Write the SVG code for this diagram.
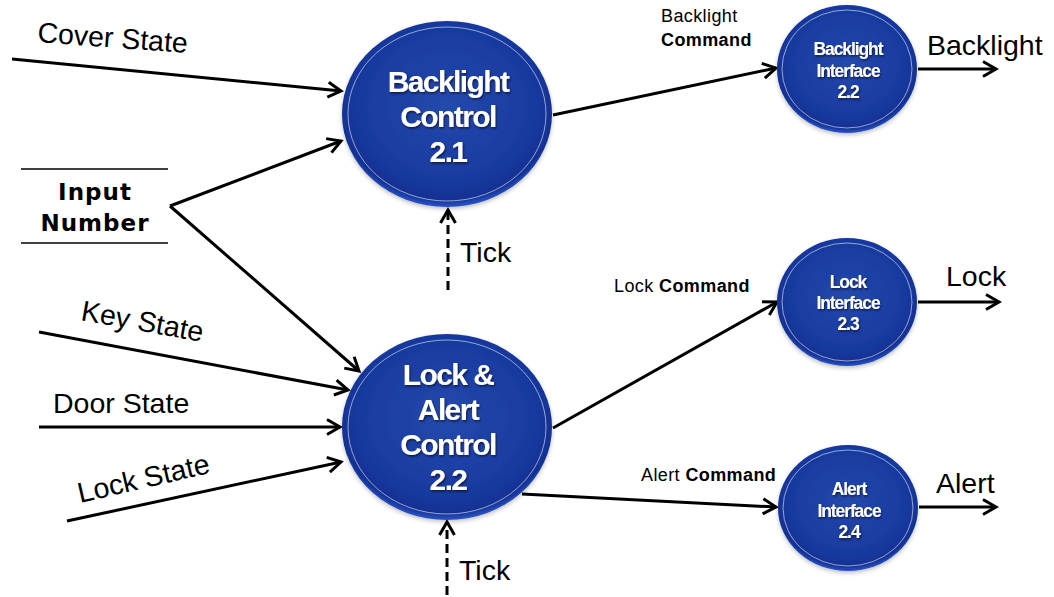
<svg xmlns="http://www.w3.org/2000/svg" width="1054" height="597" viewBox="0 0 1054 597">
<defs>
<radialGradient id="bub" cx="50%" cy="45%" r="55%">
<stop offset="0" stop-color="#2449ad"/>
<stop offset="0.8" stop-color="#18399e"/>
<stop offset="0.93" stop-color="#113092"/>
<stop offset="1" stop-color="#2d55c8"/>
</radialGradient>
<filter id="ts" x="-10%" y="-20%" width="130%" height="150%">
<feDropShadow dx="1" dy="1.5" stdDeviation="1" flood-color="#000" flood-opacity="0.6"/>
</filter>
<filter id="es" x="-10%" y="-10%" width="120%" height="125%">
<feDropShadow dx="0" dy="2" stdDeviation="2" flood-color="#000" flood-opacity="0.25"/>
</filter>
<marker id="arr" viewBox="0 0 18 18" refX="15" refY="9" markerWidth="18" markerHeight="18" markerUnits="userSpaceOnUse" orient="auto">
<path d="M2,1.5 L15,9 L2,16.5" fill="none" stroke="#000" stroke-width="3" stroke-linejoin="miter"/>
</marker>
</defs>
<style>
.bub{fill:url(#bub);filter:url(#es)}
.ring{fill:none;stroke:#ffffff;stroke-opacity:0.55;stroke-width:1}
.big{font-family:"Liberation Sans",Arial,sans-serif;font-weight:bold;font-size:30px;fill:#fff;text-anchor:middle;letter-spacing:-1.6px;filter:url(#ts)}
.small{font-family:"Liberation Sans",Arial,sans-serif;font-weight:bold;font-size:17.5px;fill:#fff;text-anchor:middle;letter-spacing:-1.1px;filter:url(#ts)}
.lbl{font-family:"Liberation Sans",Arial,sans-serif;font-size:28.5px;fill:#000}
.cmd{font-family:"Liberation Sans",Arial,sans-serif;font-size:18px;fill:#000;letter-spacing:0.4px}
.cmd tspan.b{font-weight:bold}
.inp{font-family:"DejaVu Sans",Verdana,sans-serif;font-weight:bold;font-size:23px;fill:#000;text-anchor:middle;letter-spacing:1px}
.ln{fill:none;stroke:#000;stroke-width:3;marker-end:url(#arr)}
.dash{stroke-dasharray:9 5}
.rule{stroke:#000;stroke-width:1.5}
</style>

<g id="connectors">
<line class="ln" x1="12" y1="59" x2="341" y2="91"/>
<polyline class="ln" points="170,206 341,141"/>
<polyline class="ln" points="170,206 359,371"/>
<line class="ln" x1="39" y1="332" x2="348" y2="390"/>
<line class="ln" x1="39" y1="427" x2="340" y2="427"/>
<line class="ln" x1="67" y1="521" x2="341" y2="462"/>
<line class="ln dash" x1="448" y1="290" x2="448" y2="210"/>
<line class="ln dash" x1="447" y1="595" x2="447" y2="522"/>
<line class="ln" x1="553" y1="115" x2="776" y2="68"/>
<line class="ln" x1="553" y1="428" x2="777" y2="302"/>
<line class="ln" x1="522" y1="494" x2="776" y2="507"/>
<line class="ln" x1="918" y1="69" x2="996" y2="69"/>
<line class="ln" x1="918" y1="302" x2="999" y2="302"/>
<line class="ln" x1="919" y1="507" x2="996" y2="507"/>
</g>

<g id="labels">
<text class="lbl" transform="translate(37,42) rotate(4.2)">Cover State</text>
<text class="lbl" transform="translate(80,320) rotate(10.2)">Key State</text>
<text class="lbl" x="53" y="413">Door State</text>
<text class="lbl" transform="translate(80,503) rotate(-13)">Lock State</text>
<text class="lbl" x="460" y="262">Tick</text>
<text class="lbl" x="459" y="580">Tick</text>
<text class="lbl" x="927" y="55">Backlight</text>
<text class="lbl" x="946" y="286">Lock</text>
<text class="lbl" x="936" y="493">Alert</text>
<text class="cmd" x="661" y="22">Backlight</text>
<text class="cmd" x="661" y="46"><tspan class="b">Command</tspan></text>
<text class="cmd" x="614" y="292">Lock <tspan class="b">Command</tspan></text>
<text class="cmd" x="641" y="481">Alert <tspan class="b">Command</tspan></text>
</g>

<g id="input-number">
<line class="rule" x1="21" y1="169" x2="168" y2="169"/>
<line class="rule" x1="21" y1="243" x2="168" y2="243"/>
<text class="inp" x="95" y="200">Input</text>
<text class="inp" x="95" y="231">Number</text>
</g>

<g id="backlight-control">
<ellipse class="bub" cx="447" cy="114" rx="105" ry="93"/>
<ellipse class="ring" cx="447" cy="114" rx="99" ry="87"/>
<text class="big" x="448" y="92">Backlight</text>
<text class="big" x="448" y="127">Control</text>
<text class="big" x="448" y="162">2.1</text>
</g>

<g id="lock-alert-control">
<ellipse class="bub" cx="447" cy="427" rx="105" ry="93"/>
<ellipse class="ring" cx="447" cy="427" rx="99" ry="87"/>
<text class="big" x="448" y="385">Lock &amp;</text>
<text class="big" x="448" y="420">Alert</text>
<text class="big" x="448" y="455">Control</text>
<text class="big" x="448" y="490">2.2</text>
</g>

<g id="backlight-interface">
<ellipse class="bub" cx="847" cy="69" rx="70" ry="64"/>
<ellipse class="ring" cx="847" cy="69" rx="65" ry="59"/>
<text class="small" x="848" y="55">Backlight</text>
<text class="small" x="848" y="77">Interface</text>
<text class="small" x="848" y="98">2.2</text>
</g>

<g id="lock-interface">
<ellipse class="bub" cx="847" cy="302" rx="70" ry="64"/>
<ellipse class="ring" cx="847" cy="302" rx="65" ry="59"/>
<text class="small" x="848" y="288">Lock</text>
<text class="small" x="848" y="309">Interface</text>
<text class="small" x="848" y="330">2.3</text>
</g>

<g id="alert-interface">
<ellipse class="bub" cx="848" cy="508" rx="70" ry="63"/>
<ellipse class="ring" cx="848" cy="508" rx="65" ry="58"/>
<text class="small" x="849" y="495">Alert</text>
<text class="small" x="849" y="517">Interface</text>
<text class="small" x="849" y="538">2.4</text>
</g>
</svg>
